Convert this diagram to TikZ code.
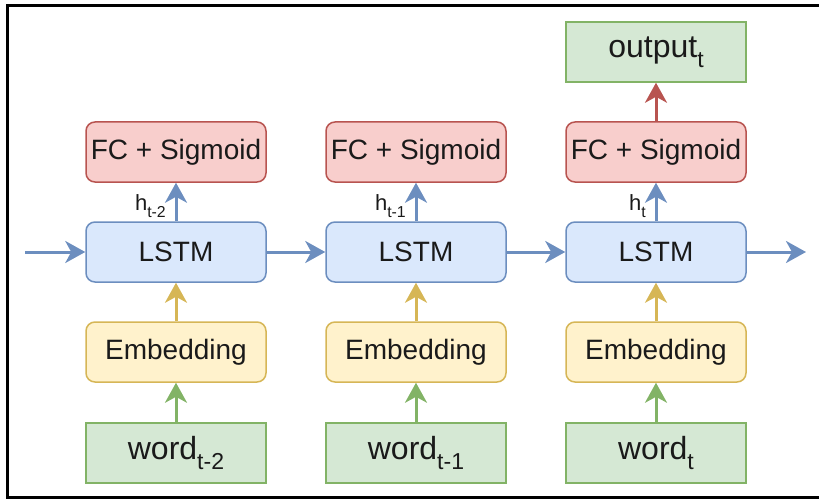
\documentclass[tikz,border=0pt]{standalone}
\usepackage{fontspec}
\setmainfont{Liberation Sans}
\usetikzlibrary{arrows.meta}
\definecolor{bfill}{HTML}{DAE8FC}\definecolor{bdraw}{HTML}{6C8EBF}
\definecolor{rfill}{HTML}{F8CECC}\definecolor{rdraw}{HTML}{B85450}
\definecolor{yfill}{HTML}{FFF2CC}\definecolor{ydraw}{HTML}{D6B656}
\definecolor{gfill}{HTML}{D5E8D4}\definecolor{gdraw}{HTML}{82B366}
\definecolor{txt}{HTML}{1A1A1A}
\newcommand\sbs[1]{\raisebox{-0.3em}{\fontsize{0.72em}{0.8em}\selectfont #1}}
\tikzset{
  box/.style={minimum width=180pt, minimum height=60pt, inner sep=0pt, line width=1.5pt, text=txt, font=\fontsize{28}{32}\selectfont},
  lstmbox/.style={box, rounded corners=9pt, fill=bfill, draw=bdraw},
  fcbox/.style={box, rounded corners=9pt, fill=rfill, draw=rdraw},
  embbox/.style={box, rounded corners=9pt, fill=yfill, draw=ydraw},
  wordbox/.style={box, fill=gfill, draw=gdraw, font=\fontsize{32}{36}\selectfont},
  arr/.style={line width=3pt, -{Stealth[length=20pt, width=22pt, inset=6pt]}},
  hlabel/.style={anchor=east, text=txt, inner sep=0pt, font=\fontsize{22}{24}\selectfont},
}
\begin{document}
\begin{tikzpicture}[x=1pt, y=-1pt]
\useasboundingbox (0,0) rectangle (819,500);
\draw[line width=3pt, black] (826,5.5) -- (7.5,5.5) -- (7.5,497.5) -- (826,497.5);
\foreach \i/\cx/\s/\h in {1/176/t-2/t-2, 2/416/t-1/t-1, 3/656/t/t}{
  \node[fcbox] (fc\i) at (\cx,152) {FC + Sigmoid};
  \node[lstmbox] (lstm\i) at (\cx,252) {LSTM};
  \node[embbox] (emb\i) at (\cx,352) {Embedding};
  \node[wordbox] (word\i) at (\cx,453) {word\sbs{\s}};
  \draw[arr, gdraw] (word\i) -- (emb\i);
  \draw[arr, ydraw] (emb\i) -- (lstm\i);
  \draw[arr, bdraw] (lstm\i) -- (fc\i);
  \node[hlabel] (h\i) at (\cx-10,206) {h\sbs{\h}};
}
\node[wordbox] (out) at (656,52) {output\sbs{t}};
\draw[arr, rdraw] (fc3) -- (out);
\coordinate (inL) at (25,252);
\coordinate (outR) at (806,252);
\draw[arr, bdraw] (inL) -- (lstm1);
\draw[arr, bdraw] (lstm1) -- (lstm2);
\draw[arr, bdraw] (lstm2) -- (lstm3);
\draw[arr, bdraw] (lstm3) -- (outR);
\end{tikzpicture}
\end{document}
